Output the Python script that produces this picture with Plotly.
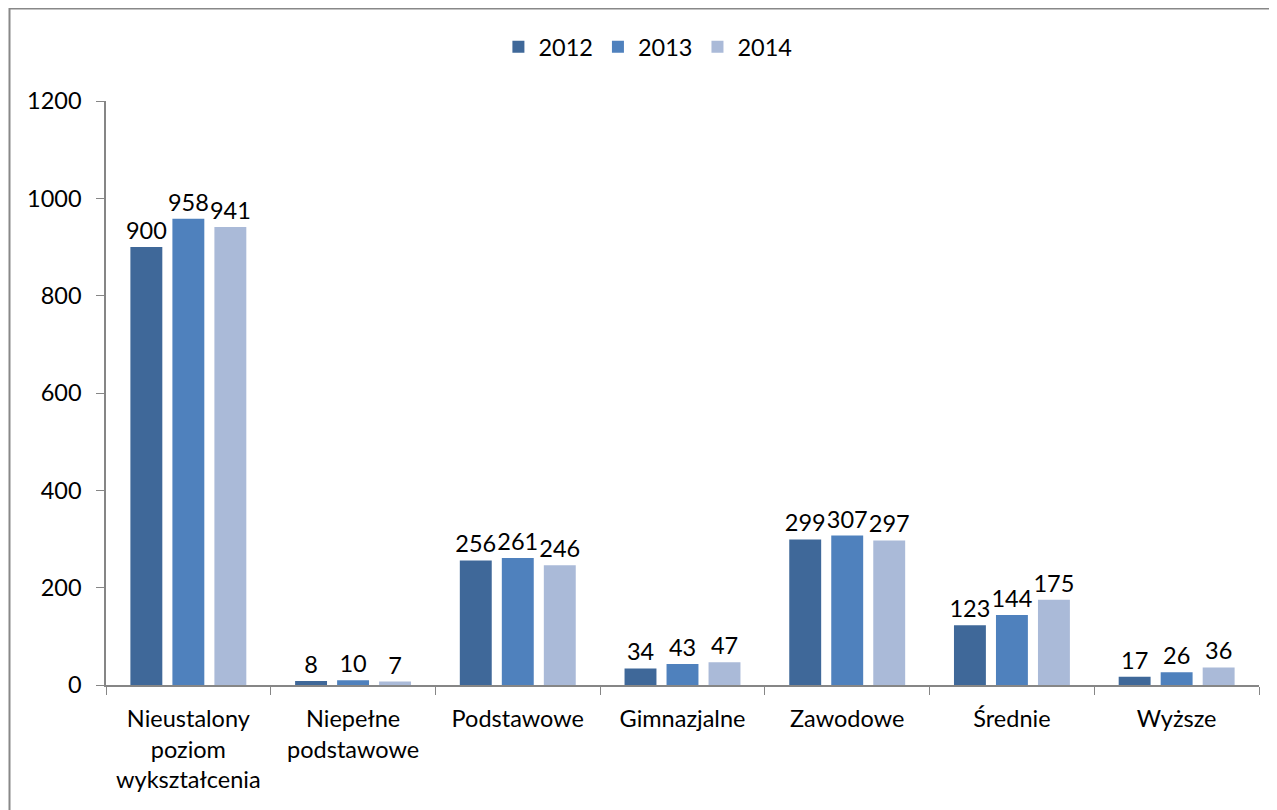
import plotly.graph_objects as go

# data
categories = ["Nieustalony<br>poziom<br>wykształcenia", "Niepełne<br>podstawowe", "Podstawowe",
              "Gimnazjalne", "Zawodowe", "Średnie", "Wyższe"]
years = ["2012", "2013", "2014"]
vals_2012 = [900, 8, 256, 34, 299, 123, 17]
vals_2013 = [958, 10, 261, 43, 307, 144, 26]
vals_2014 = [941, 7, 246, 47, 297, 175, 36]
y_ticks = [0, 200, 400, 600, 800, 1000, 1200]

colors = ["#3F6899", "#4F81BD", "#AABAD8"]
font_family = "Lato, 'Open Sans', sans-serif"
fs = 23.5

# page body adds an 8px margin, so the figure is drawn 8px smaller
W, H = 1269, 802
L, R, T, B = 98, 18, 93, 125
pw, ph = W - L - R, H - T - B

fig = go.Figure()
for name, vals, col in zip(years, [vals_2012, vals_2013, vals_2014], colors):
    fig.add_trace(go.Bar(
        x=categories, y=vals, name=name,
        marker=dict(color=col, line=dict(width=0)),
        text=vals, textposition="outside", cliponaxis=False, constraintext="none",
        textfont=dict(size=fs, color="black", family=font_family),
    ))

fig.update_layout(
    width=W, height=H,
    paper_bgcolor="white", plot_bgcolor="white",
    margin=dict(l=L, r=R, t=T, b=B),
    barmode="group", bargap=0.235, bargroupgap=0.24,
    font=dict(family=font_family, size=fs, color="black"),
    showlegend=True,
    legend=dict(orientation="h", x=0.47, xanchor="center", y=1 + (T - 39) / ph,
                yanchor="middle", font=dict(size=fs), itemwidth=30, traceorder="normal"),
    xaxis=dict(showline=True, linecolor="#868686", linewidth=1.5,
               ticks="outside", tickson="boundaries", ticklen=8, tickcolor="#868686",
               showgrid=False, tickfont=dict(size=fs), ticklabelstandoff=12),
    yaxis=dict(range=[0, 1200], tickvals=y_ticks, showline=True, linecolor="#868686",
               linewidth=1.5, ticks="outside", ticklen=8, tickcolor="#868686",
               showgrid=False, zeroline=False, tickfont=dict(size=fs), ticklabelstandoff=10),
    # outer chart frame
    shapes=[dict(type="rect", xref="paper", yref="paper",
                 x0=(1.5 - L) / pw, x1=(W + 10 - L) / pw,
                 y0=(T + ph - (H + 10)) / ph, y1=(T + ph - 0.5) / ph,
                 line=dict(color="#888888", width=2), fillcolor="rgba(0,0,0,0)")],
)

fig.write_html("out.html")
